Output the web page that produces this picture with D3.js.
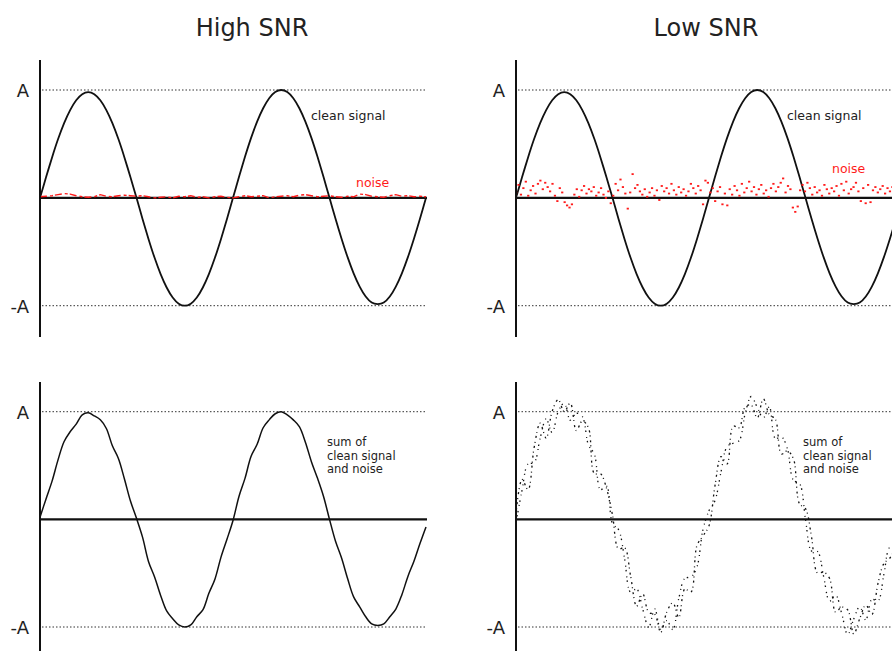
<!DOCTYPE html>
<html>
<head>
<meta charset="utf-8">
<script src="https://cdn.jsdelivr.net/npm/d3@7"></script>
<style>
  html, body { margin: 0; padding: 0; background: #fff; }
  svg { display: block; font-family: "DejaVu Sans", sans-serif; }
</style>
</head>
<body>
<svg id="chart" width="892" height="651"></svg>
<script>
// ---------- DATA ----------
const panelTitles = ["High SNR", "Low SNR"];
const levelLabels = ["A", "-A"];
const levelValues = [1, -1];
const cleanLabel = "clean signal";
const noiseLabel = "noise";
const sumLabelLines = ["sum of", "clean signal", "and noise"];

// clean signal, 32 samples per period, two periods (amplitude units of A)
const cleanSignal = [
  0, 0.19, 0.375, 0.545, 0.693, 0.814, 0.905, 0.961, 0.98, 0.961, 0.905, 0.814, 0.693, 0.545, 0.375, 0.19,
  0, -0.195, -0.383, -0.556, -0.707, -0.831, -0.924, -0.981, -1, -0.981, -0.924, -0.831, -0.707, -0.556, -0.383, -0.195,
  0, 0.195, 0.383, 0.556, 0.707, 0.831, 0.924, 0.981, 1, 0.981, 0.924, 0.831, 0.707, 0.556, 0.383, 0.195,
  0, -0.194, -0.379, -0.55, -0.7, -0.823, -0.915, -0.971, -0.985, -0.971, -0.915, -0.823, -0.7, -0.55, -0.379, -0.194,
  0
];

// high-SNR noise (small, red trace just above zero)
const noiseHigh = [
  0.01, 0.015, 0.02, 0.03, 0.04, 0.035, 0.02, 0.01, 0.005, 0.01, 0.03, 0.015, 0.01, 0.02, 0.025, 0.02,
  0.015, 0.02, 0.01, 0.0, 0.005, 0.01, 0.0, 0.015, 0.01, 0.02, 0.005, 0.01, 0.0, 0.01, 0.015, 0.005,
  0.0, 0.01, 0.02, 0.01, 0.015, 0.02, 0.0, 0.01, 0.015, 0.02, 0.01, 0.025, 0.03, 0.02, 0.01, 0.015,
  0.02, 0.01, 0.005, 0.015, 0.01, 0.035, 0.03, 0.015, 0.01, 0.005, 0.02, 0.03, 0.015, 0.02, 0.01, 0.015,
  0.01
];

// low-SNR noise (scattered red points)
const noiseLow = [
  0.05, 0.12, 0.03, 0.09, 0.15, 0.02, 0.07, 0.11, 0.04, 0.13,
  0.16, 0.08, 0.14, 0.1, 0.06, 0.13, 0.02, -0.03, 0.09, 0.05,
  -0.04, -0.07, -0.09, -0.06, 0.03, 0.08, 0.01, 0.07, 0.11, 0.04,
  0.08, 0.06, 0.1, 0.02, 0.05, 0.09, 0.03, 0.0, 0.06, -0.05,
  0.02, 0.13, 0.07, 0.17, 0.1, 0.04, -0.1, 0.05, 0.22, 0.09,
  0.12, 0.06, 0.03, 0.08, 0.01, 0.05, 0.09, 0.02, 0.07, -0.02,
  0.11, 0.06, 0.09, 0.04, 0.13, 0.07, 0.03, 0.1, 0.05, 0.08,
  0.02, 0.06, 0.13, 0.09, 0.04, 0.11, 0.07, -0.06, 0.16, 0.14,
  0.05, 0.09, -0.03, 0.06, 0.1, -0.06, 0.04, -0.07, 0.08, 0.03,
  0.11, 0.07, 0.02, 0.13, 0.05, 0.09, 0.15, 0.06, 0.1, 0.03,
  0.08, 0.12, 0.04, 0.07, 0.01, 0.09, 0.13, 0.06, 0.1, 0.14,
  0.18, 0.05, 0.11, 0.08, -0.09, -0.13, -0.08, 0.07, 0.12, 0.06,
  0.14, 0.09, 0.03, 0.1, 0.05, 0.07, 0.02, 0.12, 0.08, 0.04,
  0.09, 0.06, 0.11, 0.02, 0.13, 0.07, 0.15, 0.04, 0.08, 0.1,
  0.14, 0.06, -0.03, 0.09, -0.05, 0.12, -0.04, 0.07, 0.1, 0.05,
  0.08, 0.11, 0.04, 0.09, 0.06, 0.1, 0.03, 0.07, 0.05, 0.08
];

// deviation of the high-SNR sum from the clean signal (same sampling as cleanSignal)
const sumHighDev = [
  0.02, 0.0, -0.02, 0.01, 0.03, 0.0, -0.02, 0.01, 0.01, 0.0, 0.02, 0.03, -0.01, 0.02, 0.0, -0.02,
  0.01, 0.03, -0.01, 0.02, 0.0, -0.02, 0.0, 0.0, 0.0, 0.0, 0.02, -0.01, 0.02, 0.0, 0.03, 0.01,
  -0.01, 0.02, 0.0, 0.03, -0.01, 0.02, 0.0, 0.0, 0.0, -0.01, 0.0, 0.03, 0.01, -0.02, 0.0, 0.02,
  0.0, -0.01, 0.02, 0.0, -0.02, 0.01, 0.01, 0.0, 0.0, 0.0, 0.01, -0.01, 0.0, 0.02, -0.01, -0.03,
  -0.07
];

// deviations of the low-SNR sum from the clean signal (two overlapping traces)
const sumLowDevA = [
  0.05, 0.18, -0.1, 0.12, 0.2, -0.06, 0.1, 0.15, 0.02, 0.12, -0.08, 0.1, 0.16, -0.12, 0.05, 0.1,
  0.04, -0.08, 0.12, 0.03, -0.1, 0.14, 0.06, 0.1, -0.05, 0.12, 0.15, -0.08, 0.06, -0.12, 0.14, 0.04,
  -0.06, 0.12, 0.2, -0.04, 0.16, 0.02, 0.12, 0.08, -0.06, 0.14, 0.05, 0.1, -0.1, 0.08, 0.18, -0.05,
  0.1, 0.03, -0.12, 0.06, 0.15, -0.04, 0.1, 0.13, -0.08, 0.05, 0.12, -0.06, 0.1, 0.14, 0.02, -0.05,
  0.08
];
const sumLowDevB = [
  -0.03, 0.08, 0.14, -0.02, 0.06, 0.12, -0.1, 0.04, 0.1, -0.04, 0.08, 0.14, 0.0, 0.06, -0.1, 0.12,
  -0.04, 0.1, 0.02, -0.12, 0.06, 0.0, -0.08, 0.15, -0.02, 0.04, -0.1, 0.1, 0.16, 0.02, -0.06, 0.1,
  0.08, -0.02, 0.06, 0.12, 0.0, -0.1, 0.06, 0.16, 0.04, -0.04, 0.12, -0.08, 0.06, 0.1, -0.02, 0.14,
  0.0, -0.1, 0.08, 0.02, -0.06, 0.12, 0.04, -0.1, 0.06, 0.16, -0.02, 0.08, -0.06, 0.04, 0.12, -0.08,
  0.02
];

// ---------- DRAWING ----------
const W = 892, H = 651;
const svg = d3.select("#chart");
const defs = svg.append("defs");
defs.append("clipPath").attr("id", "clipAll")
  .append("rect").attr("x", 0).attr("y", 0).attr("width", W).attr("height", H);

const ink = "#111";
const red = "#ff1a1a";

const columns = [
  { x0: 40, x1: 426, labelEnd: 29, titleX: 252 },
  { x0: 516, x1: 902, labelEnd: 505, titleX: 706 }
];
const rows = [
  { yTop: 90, yBot: 305.7, axisTop: 60, axisBot: 337 },
  { yTop: 411.7, yBot: 627, axisTop: 382, axisBot: 651 }
];

function panel(col, row, kind, colIndex) {
  const g = svg.append("g").attr("clip-path", "url(#clipAll)");
  const n = cleanSignal.length;
  const x = d3.scaleLinear().domain([0, n - 1]).range([col.x0, col.x1]);
  const y = d3.scaleLinear().domain([-1, 1]).range([row.yBot, row.yTop]);

  // dotted reference lines at A and -A
  g.selectAll("line.level").data(levelValues).enter().append("line")
    .attr("x1", col.x0 + 2).attr("x2", col.x1 + 1)
    .attr("y1", d => y(d)).attr("y2", d => y(d))
    .attr("stroke", "#333").attr("stroke-width", 1)
    .attr("stroke-dasharray", "1.5,2");

  // level labels
  g.selectAll("text.level").data(levelValues).enter().append("text")
    .attr("x", col.labelEnd).attr("y", d => y(d) + 7)
    .attr("text-anchor", "end")
    .attr("font-size", 18).attr("fill", "#222")
    .text((d, i) => levelLabels[i]);

  const line = d3.line().x((d, i) => x(i)).y(d => y(d));

  if (kind === "top") {
    // clean signal
    g.append("path").datum(cleanSignal)
      .attr("d", line.curve(d3.curveCardinal.tension(0.2)))
      .attr("fill", "none").attr("stroke", ink).attr("stroke-width", 1.8);
  }

  // zero line
  g.append("line")
    .attr("x1", col.x0).attr("x2", col.x1 + 1)
    .attr("y1", y(0)).attr("y2", y(0))
    .attr("stroke", ink).attr("stroke-width", 2.2);

  if (kind === "top") {
    if (colIndex === 0) {
      const xn = d3.scaleLinear().domain([0, noiseHigh.length - 1]).range([col.x0, col.x1]);
      g.append("path").datum(noiseHigh)
        .attr("d", d3.line().x((d, i) => xn(i)).y(d => y(d)).curve(d3.curveLinear))
        .attr("fill", "none").attr("stroke", red).attr("stroke-width", 1.4)
        .attr("stroke-dasharray", "7,3,3,2");
    } else {
      const xn = d3.scaleLinear().domain([0, noiseLow.length - 1]).range([col.x0, col.x1]);
      g.selectAll("rect.noise").data(noiseLow).enter().append("rect")
        .attr("x", (d, i) => xn(i) - 1).attr("y", d => y(d) - 0.9)
        .attr("width", 2.2).attr("height", 1.8)
        .attr("fill", red);
    }
    g.append("text").attr("x", col.x0 + 271).attr("y", 120)
      .attr("font-size", 12.5).attr("fill", "#222").text(cleanLabel);
    g.append("text").attr("x", col.x0 + 316)
      .attr("y", colIndex === 0 ? 187 : 173)
      .attr("font-size", 12.5).attr("fill", red).text(noiseLabel);
  } else {
    if (colIndex === 0) {
      const sum = cleanSignal.map((v, i) => v + sumHighDev[i]);
      g.append("path").datum(sum)
        .attr("d", line.curve(d3.curveCatmullRom.alpha(0.5)))
        .attr("fill", "none").attr("stroke", ink).attr("stroke-width", 1.5)
        .attr("stroke-linejoin", "round");
    } else {
      [sumLowDevA, sumLowDevB].forEach((dev, k) => {
        const sum = cleanSignal.map((v, i) => v + dev[i]);
        g.append("path").datum(sum)
          .attr("d", line.curve(d3.curveCatmullRom))
          .attr("fill", "none").attr("stroke", ink).attr("stroke-width", 1.3)
          .attr("stroke-dasharray", k === 0 ? "2,3,1,4" : "1.5,5,1,3");
      });
    }
    const t = g.append("text").attr("x", col.x0 + 287).attr("y", 446)
      .attr("font-size", 11.5).attr("fill", "#222");
    sumLabelLines.forEach((s, i) => {
      t.append("tspan").attr("x", col.x0 + 287).attr("dy", i === 0 ? 0 : 13.5).text(s);
    });
  }

  // vertical axis
  g.append("line")
    .attr("x1", col.x0).attr("x2", col.x0)
    .attr("y1", row.axisTop).attr("y2", row.axisBot)
    .attr("stroke", ink).attr("stroke-width", 2);
}

columns.forEach((col, ci) => {
  svg.append("text").attr("x", col.titleX).attr("y", 36)
    .attr("text-anchor", "middle").attr("font-size", 24).attr("fill", "#222")
    .text(panelTitles[ci]);
  panel(col, rows[0], "top", ci);
  panel(col, rows[1], "bottom", ci);
});
</script>
</body>
</html>
